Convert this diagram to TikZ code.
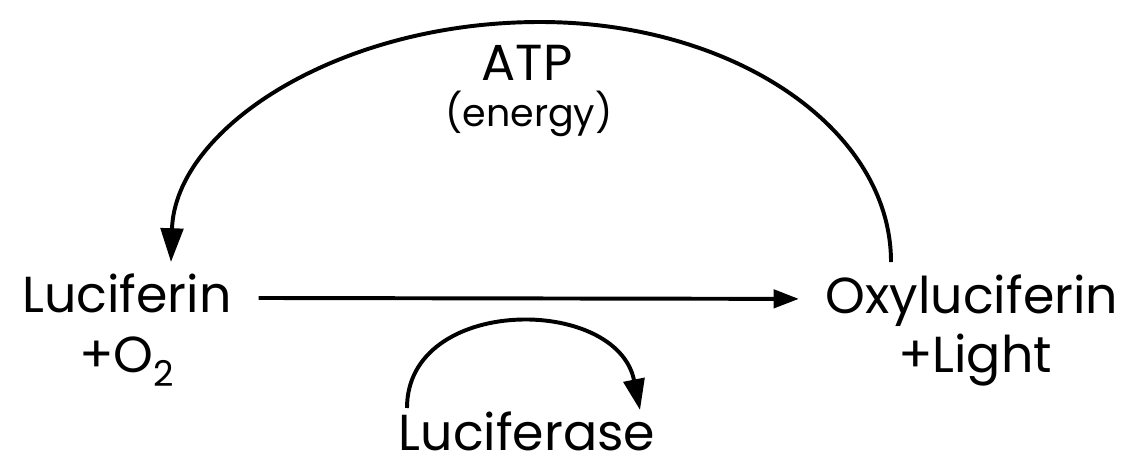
\documentclass[tikz,border=0pt]{standalone}
\usepackage{fontspec}
\setmainfont{Poppins}
\usetikzlibrary{arrows.meta}
\tikzset{
  label/.style={inner sep=0pt, font=\fontsize{36pt}{42pt}\selectfont},
  small label/.style={inner sep=0pt, font=\fontsize{27pt}{32pt}\selectfont},
  link/.style={line width=2.8pt}
}
\begin{document}
\begin{tikzpicture}[x=0.025cm, y=-0.025cm]
    \useasboundingbox (0,0) rectangle (1129,474);
    % Reactants and products
    \node[label, anchor=base] (lucif) at (127,312) {Luciferin};
    \node[label, anchor=base] (oxygen) at (127,372) {+O\textsubscript{2}};
    \node[label, anchor=base] (oxy) at (972,313) {Oxyluciferin};
    \node[label, anchor=base] (light) at (975,372) {+Light};
    \node[label, anchor=base] (lucase) at (527,450) {Luciferase};
    % Energy label
    \node[label, anchor=base] (atp) at (527,80) {ATP};
    \node[small label, anchor=base] (energy) at (529,126) {(energy)};
    % Reaction arrow
    \draw[link, -{Triangle[length=18pt, width=13pt]}, shorten <=19pt, shorten >=19pt]
        ([yshift=10pt]lucif.base east) -- ([yshift=10pt]oxy.base west);
    % ATP arc
    \coordinate (atpR) at (891,262);
    \coordinate (atpL) at (171,262);
    \draw[link, -{Triangle[length=24pt, width=16pt]}] (atpR)
        .. controls (891,129) and (734,22) .. (540,22)
        .. controls (337,22) and (175,129) .. (atpL);
    % Enzyme arc
    \coordinate (encL) at (407,408);
    \coordinate (encR) at (640,410);
    \draw[link, -{Triangle[length=22pt, width=15pt]}] (encL)
        .. controls (407,295) and (617,295) .. (encR);
\end{tikzpicture}
\end{document}
